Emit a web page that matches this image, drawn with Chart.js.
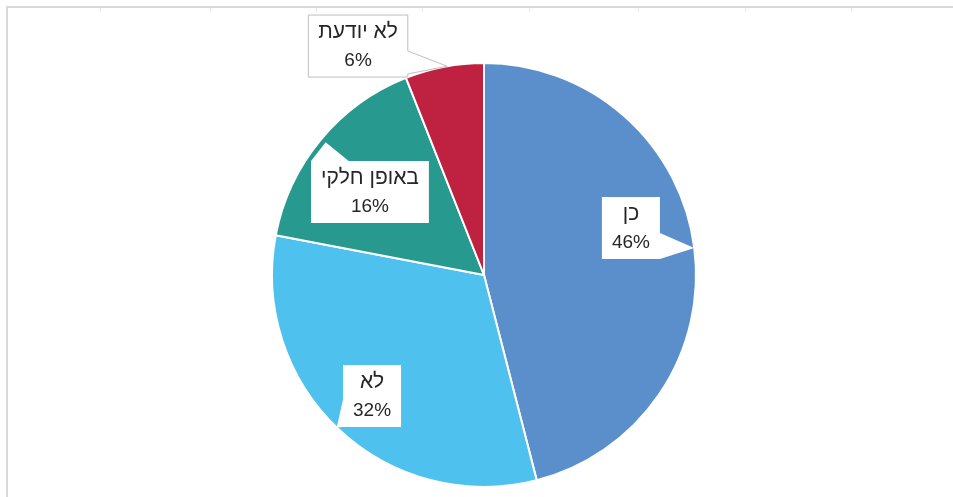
<!DOCTYPE html>
<html lang="he">
<head>
<meta charset="utf-8">
<script src="https://cdn.jsdelivr.net/npm/chart.js@4"></script>
<style>
  html, body { margin: 0; padding: 0; background: #fff; }
  #wrap { width: 953px; height: 497px; position: relative; }
</style>
</head>
<body>
<div id="wrap"><canvas id="pie" width="953" height="497"></canvas></div>
<script>
// answers, clockwise from 12 o'clock
const labels = ['כן', 'לא', 'באופן חלקי', 'לא יודעת'];
const values = [46, 32, 16, 6];
const colors = ['#5b8fcb', '#4fc1ee', '#27998f', '#be2240'];

// where each callout sits, in units of the pie radius (layout only)
const callouts = [
  { dx: 0.693, dy: -0.222, tipAngle: 82.7, side: 'right', from: 0.58, to: 1.0, border: false },
  { dx: -0.528, dy: 0.571, tipAngle: 224, side: 'left', from: 0.55, to: 1.0, border: false },
  { dx: -0.538, dy: -0.392, tipAngle: 310, side: 'top', from: 0.0, to: 0.32, border: false, tipR: 0.975 },
  { dx: -0.594, dy: -1.08, tipAngle: 350, side: 'right', from: 0.58, to: 0.95, border: true }
];

const frame = {
  id: 'frame',
  beforeDraw(chart) {
    const c = chart.ctx;
    c.save();
    c.strokeStyle = '#d9d9d9';
    c.lineWidth = 2;
    c.beginPath();
    c.moveTo(7, 497); c.lineTo(7, 7); c.lineTo(953, 7);
    c.stroke();
    c.strokeStyle = '#ebebeb';
    c.lineWidth = 1;
    [100, 210, 316, 422, 529, 638, 745, 851].forEach(x => {
      c.beginPath(); c.moveTo(x + 0.5, 8); c.lineTo(x + 0.5, 12); c.stroke();
    });
    c.restore();
  }
};

const calloutPlugin = {
  id: 'callouts',
  afterDatasetsDraw(chart) {
    const c = chart.ctx;
    const arc0 = chart.getDatasetMeta(0).data[0];
    const cx = arc0.x, cy = arc0.y, r = arc0.outerRadius;
    c.save();
    callouts.forEach((co, i) => {
      const l1 = labels[i], l2 = values[i] + '%';
      c.font = '21px "Liberation Sans", "DejaVu Sans", sans-serif';
      const w1 = c.measureText(l1).width;
      c.font = '19px "Liberation Sans", "DejaVu Sans", sans-serif';
      const w2 = c.measureText(l2).width;
      const bw = Math.max(w1, w2) + 20, bh = 62;
      const bx = cx + co.dx * r - bw / 2, by = cy + co.dy * r - bh / 2;
      const a = co.tipAngle * Math.PI / 180, tr = (co.tipR || 1) * r;
      const tx = cx + tr * Math.sin(a), ty = cy - tr * Math.cos(a);

      c.beginPath();
      c.moveTo(bx, by);
      if (co.side === 'top') {
        c.lineTo(bx + bw * co.from, by); c.lineTo(tx, ty); c.lineTo(bx + bw * co.to, by);
      }
      c.lineTo(bx + bw, by);
      if (co.side === 'right') {
        c.lineTo(bx + bw, by + bh * co.from); c.lineTo(tx, ty); c.lineTo(bx + bw, by + bh * co.to);
      }
      c.lineTo(bx + bw, by + bh);
      c.lineTo(bx, by + bh);
      if (co.side === 'left') {
        c.lineTo(bx, by + bh * co.to); c.lineTo(tx, ty); c.lineTo(bx, by + bh * co.from);
      }
      c.closePath();
      c.fillStyle = '#ffffff';
      c.fill();
      if (co.border) {
        c.strokeStyle = '#bfbfbf';
        c.lineWidth = 1;
        c.stroke();
      }

      c.fillStyle = '#262626';
      c.textAlign = 'center';
      c.textBaseline = 'middle';
      c.direction = 'rtl';
      c.font = '21px "Liberation Sans", "DejaVu Sans", sans-serif';
      c.fillText(l1, bx + bw / 2, by + 17);
      c.direction = 'ltr';
      c.font = '19px "Liberation Sans", "DejaVu Sans", sans-serif';
      c.fillText(l2, bx + bw / 2, by + 46);
    });
    c.restore();
  }
};

new Chart(document.getElementById('pie'), {
  type: 'pie',
  data: {
    labels,
    datasets: [{
      data: values,
      backgroundColor: colors,
      borderColor: '#ffffff',
      borderWidth: 2
    }]
  },
  options: {
    responsive: false,
    animation: false,
    layout: { padding: { left: 271, right: 256, top: 62, bottom: 9 } },
    plugins: {
      legend: { display: false },
      tooltip: { enabled: false }
    }
  },
  plugins: [frame, calloutPlugin]
});
</script>
</body>
</html>
